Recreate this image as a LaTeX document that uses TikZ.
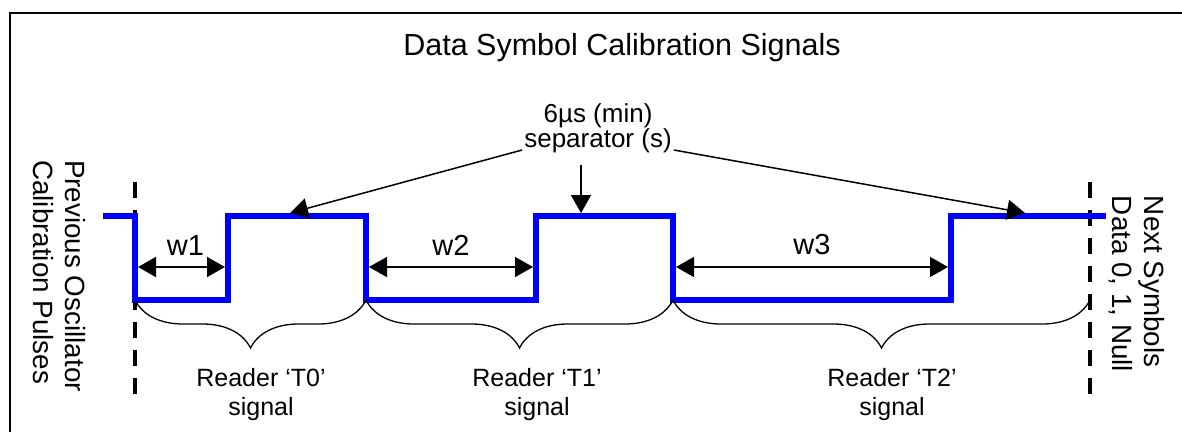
\documentclass[tikz,border=0pt]{standalone}
\usepackage{fontspec}
\setmainfont{Liberation Sans}
\usetikzlibrary{arrows.meta,decorations.pathreplacing}
\begin{document}
\begin{tikzpicture}[x=1pt,y=-1pt,
  sig/.style={draw=blue, line width=6pt, line join=miter},
  dashv/.style={line width=3.5pt, dash pattern=on 16pt off 12pt},
  dim/.style={line width=1.5pt, shorten <=3pt, shorten >=3pt, {Triangle[length=18pt,width=20pt]}-{Triangle[length=18pt,width=20pt]}},
  ptr/.style={line width=1.5pt, -{Triangle[length=18pt,width=20pt]}},
  brc/.style={decorate, decoration={brace, amplitude=48pt, mirror}, line width=1.3pt},
  lbl/.style={font=\fontsize{25}{29}\selectfont, inner sep=0pt, align=center},
  wlbl/.style={font=\fontsize{29}{34}\selectfont, inner sep=0pt},
  side/.style={font=\fontsize{27.8}{32}\selectfont, inner sep=0pt, align=left, rotate=-90},
]
\useasboundingbox (0,0) rectangle (1182,432);
% frame
\draw[line width=2pt] (10,432) -- (10,13) -- (1182,13);
% title
\node[lbl, font=\fontsize{30.5}{36}\selectfont, anchor=base] (title) at (622,55) {Data Symbol Calibration Signals};
% signal corners
\coordinate (s0) at (103,216);
\coordinate (a1) at (135,216); \coordinate (a2) at (135,300);
\coordinate (b1) at (228,300); \coordinate (b2) at (228,216);
\coordinate (c1) at (366,216); \coordinate (c2) at (366,300);
\coordinate (d1) at (536,300); \coordinate (d2) at (536,216);
\coordinate (e1) at (673,216); \coordinate (e2) at (673,300);
\coordinate (f1) at (951,300); \coordinate (f2) at (951,216);
\coordinate (s1) at (1106,216);
% dashed boundaries
\coordinate (dl1) at (135,182); \coordinate (dl2) at (135,398);
\coordinate (dr1) at (1090,182); \coordinate (dr2) at (1090,398);
\draw[dashv] (dl1) -- (dl2);
\draw[dashv] (dr1) -- (dr2);
% signal
\draw[sig] (s0) -- (a1) -- (a2) -- (b1) -- (b2) -- (c1) -- (c2) -- (d1) -- (d2) -- (e1) -- (e2) -- (f1) -- (f2) -- (s1);
% width arrows
\coordinate (w1a) at (135,267); \coordinate (w1b) at (228,267);
\coordinate (w2a) at (366,267); \coordinate (w2b) at (536,267);
\coordinate (w3a) at (673,267); \coordinate (w3b) at (951,267);
\draw[dim] (w1a) -- node[wlbl, above=11pt, xshift=4pt] (w1) {w1} (w1b);
\draw[dim] (w2a) -- node[wlbl, above=11pt] (w2) {w2} (w2b);
\draw[dim] (w3a) -- node[wlbl, above=11pt] (w3) {w3} (w3b);
% separator label
\node[lbl, font=\fontsize{26}{30}\selectfont, anchor=base] (sep1) at (598,122) {6µs (min)};
\node[lbl, font=\fontsize{26}{30}\selectfont, anchor=base, inner xsep=2pt] (sep2) at (598,147) {separator (s)};
\coordinate (t1) at (290,213);
\coordinate (t2) at (581,213);
\coordinate (t2s) at (581,165);
\coordinate (t3) at (1025,213);
\draw[ptr] ([yshift=-3pt]sep2.base west) -- (t1);
\draw[ptr] (t2s) -- (t2);
\draw[ptr] ([yshift=-3pt]sep2.base east) -- (t3);
% braces
\draw[brc] (a2) -- (c2);
\draw[brc] (c2) -- (e2);
\draw[brc] (e2) -- (1090,300);
\node[lbl] (r0) at (261,395) {Reader ‘T0’\\signal};
\node[lbl] (r1) at (537,395) {Reader ‘T1’\\signal};
\node[lbl] (r2) at (892,395) {Reader ‘T2’\\signal};
% side texts
\node[side] (prev) at (59,276) {Previous Oscillator\\Calibration Pulses};
\node[side] (next) at (1137,284) {Next Symbols\\Data 0, 1, Null};
\end{tikzpicture}
\end{document}
